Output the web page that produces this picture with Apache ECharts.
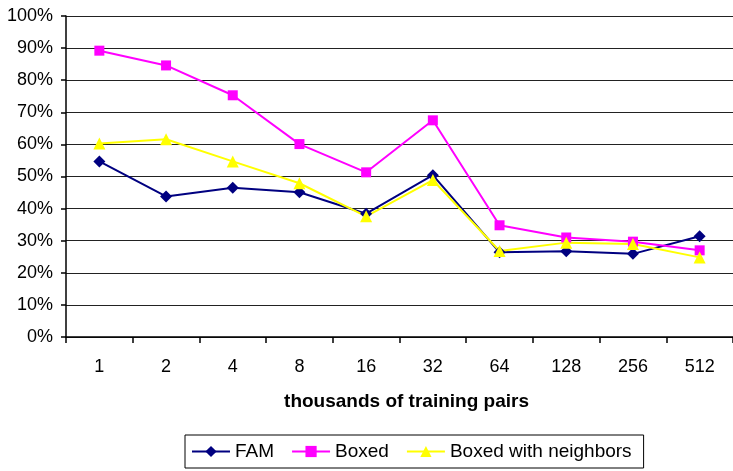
<!DOCTYPE html>
<html>
<head>
<meta charset="utf-8">
<script src="https://cdn.jsdelivr.net/npm/echarts@6/dist/echarts.min.js"></script>
<style>
  html, body { margin: 0; padding: 0; background: #fff; }
  #chart { width: 733px; height: 471px; }
</style>
</head>
<body>
<div id="chart"></div>
<script>
// ======================
// DATA
// ======================

const categories = ['1', '2', '4', '8', '16', '32', '64', '128', '256', '512'];
const famValues = [54.7, 43.8, 46.5, 45.1, 38.4, 50.4, 26.4, 26.7, 25.9, 31.4];
const boxedValues = [89.2, 84.6, 75.3, 60.1, 51.3, 67.5, 34.8, 31.0, 29.7, 27.0];
const neighborValues = [60.3, 61.6, 54.7, 47.9, 37.6, 48.9, 26.8, 29.4, 29.0, 24.8];
const yTicks = [0, 10, 20, 30, 40, 50, 60, 70, 80, 90, 100];

const FONT = '"Liberation Sans", Arial, sans-serif';

// ======================
// CHART
// ======================

const chart = echarts.init(document.getElementById('chart'));

function makeSeries(name, data, color, symbol, size) {
    return {
        name,
        type: 'line',
        data,
        symbol,
        symbolSize: size,
        showSymbol: true,
        lineStyle: { color, width: 2 },
        itemStyle: { color, borderWidth: 0 },
        emphasis: { disabled: true },
        animation: false
    };
}

chart.setOption({
    animation: false,
    grid: {
        left: 66,
        top: 16,
        width: 673,
        bottom: 134,
        containLabel: false
    },
    xAxis: {
        type: 'category',
        data: categories,
        boundaryGap: true,
        axisLine: { lineStyle: { color: '#000', width: 1.5 } },
        axisTick: { show: true, length: 6, lineStyle: { color: '#000', width: 1.5 } },
        axisLabel: { color: '#000', fontSize: 18, fontFamily: FONT, margin: 21 },
        name: 'thousands of training pairs',
        nameLocation: 'middle',
        nameGap: 55,
        nameTextStyle: { color: '#000', fontSize: 19, fontWeight: 'bold', fontFamily: FONT, padding: [0, 0, 0, 14] }
    },
    yAxis: {
        type: 'value',
        min: yTicks[0],
        max: yTicks[yTicks.length - 1],
        interval: 10,
        axisLine: { show: true, lineStyle: { color: '#000', width: 1.5 } },
        axisTick: { show: true, length: 5, lineStyle: { color: '#000', width: 1.5 } },
        axisLabel: {
            color: '#000',
            fontSize: 18,
            fontFamily: FONT,
            margin: 13,
            formatter: v => v + '%'
        },
        splitLine: { show: true, lineStyle: { color: '#222', width: 1.2 } }
    },
    legend: {
        left: 185,
        top: 435,
        itemWidth: 38,
        itemHeight: 14,
        itemGap: 17,
        padding: [7, 12, 7, 6],
        borderColor: '#000',
        borderWidth: 1,
        textStyle: { color: '#000', fontSize: 19, fontFamily: FONT },
        data: ['FAM', 'Boxed', 'Boxed with neighbors']
    },
    series: [
        makeSeries('FAM', famValues, '#000080', 'diamond', 12),
        makeSeries('Boxed', boxedValues, '#ff00ff', 'rect', 10),
        makeSeries('Boxed with neighbors', neighborValues, '#ffff00', 'triangle', 12)
    ]
});
</script>
</body>
</html>
